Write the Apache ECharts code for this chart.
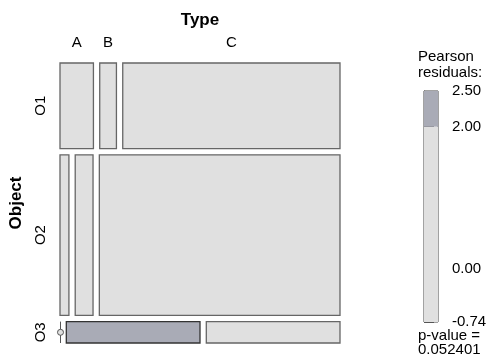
<!DOCTYPE html>
<html>
<head>
<meta charset="utf-8">
<script src="https://cdn.jsdelivr.net/npm/echarts@6/dist/echarts.min.js"></script>
<style>
  html, body { margin: 0; padding: 0; background: #fff; }
  #chart { width: 497px; height: 360px; }
</style>
</head>
<body>
<div id="chart"></div>
<script>
// Contingency table: Object (rows) x Type (columns)
const objects = ['O1', 'O2', 'O3'];
const types = ['A', 'B', 'C'];
const countsO1 = [2, 1, 13];
const countsO2 = [1, 2, 27];
const countsO3 = [0, 2, 2];

// Residual legend
const legendTicks = [-0.74, 0, 2, 2.5];
const legendTickLabels = ['-0.74', '0.00', '2.00', '2.50'];
const legendBands = [[-0.74, 2, 0], [2, 2.5, 1]];
const pValueText = '0.052401';

const FONT = '"Liberation Sans", Arial, sans-serif';
const FILLS = ['#e0e0e0', '#a9abb6'];
const BORDERS = ['#666666', '#333333'];
const GAP = 0.0225;

const table = [countsO1, countsO2, countsO3];
const rowTotals = table.map(r => r.reduce((a, b) => a + b, 0));
const colTotals = types.map((_, j) => table.reduce((a, r) => a + r[j], 0));
const N = rowTotals.reduce((a, b) => a + b, 0);

// Mosaic geometry in unit coordinates (rows split first, then columns)
const cells = [];
const rowCenters = [];
const topCenters = [];
let y = 0;
table.forEach((row, i) => {
  const h = (1 - GAP * (objects.length - 1)) * rowTotals[i] / N;
  rowCenters.push(y + h / 2);
  let x = 0;
  row.forEach((n, j) => {
    const w = (1 - GAP * (types.length - 1)) * n / rowTotals[i];
    const expected = rowTotals[i] * colTotals[j] / N;
    const resid = (n - expected) / Math.sqrt(expected);
    cells.push([x, x + w, y, y + h, resid, n]);
    if (i === 0) topCenters.push(x + w / 2);
    x += w + GAP;
  });
  y += h + GAP;
});

function nearestLabel(v, centers, names) {
  let best = 0;
  centers.forEach((c, k) => { if (Math.abs(c - v) < Math.abs(centers[best] - v)) best = k; });
  return names[best];
}

const chart = echarts.init(document.getElementById('chart'), null, { renderer: 'canvas' });

chart.setOption({
  animation: false,
  backgroundColor: '#ffffff',
  textStyle: { fontFamily: FONT },
  grid: [
    { left: 60, top: 63, width: 280, height: 280, containLabel: false },
    { left: 424, top: 91, width: 14, height: 231, containLabel: false,
      show: true, borderColor: '#444444', borderWidth: 1, backgroundColor: 'transparent' }
  ],
  xAxis: [
    {
      gridIndex: 0, type: 'value', min: 0, max: 1, position: 'top',
      axisLine: { show: false }, axisTick: { show: false }, splitLine: { show: false },
      axisLabel: {
        customValues: topCenters, margin: 13,
        color: '#000', fontSize: 15, fontFamily: FONT,
        formatter: v => nearestLabel(v, topCenters, types)
      },
      name: 'Type', nameLocation: 'middle', nameGap: 34,
      nameTextStyle: { color: '#000', fontSize: 17, fontWeight: 'bold', fontFamily: FONT }
    },
    {
      gridIndex: 1, type: 'value', min: 0, max: 1, show: false
    }
  ],
  yAxis: [
    {
      gridIndex: 0, type: 'value', min: 0, max: 1, inverse: true,
      axisLine: { show: false }, axisTick: { show: false }, splitLine: { show: false },
      axisLabel: {
        customValues: rowCenters, margin: 12, rotate: 90,
        color: '#000', fontSize: 15, fontFamily: FONT,
        formatter: v => nearestLabel(v, rowCenters, objects)
      },
      name: 'Object', nameLocation: 'middle', nameGap: 31,
      nameTextStyle: { color: '#000', fontSize: 17, fontWeight: 'bold', fontFamily: FONT }
    },
    {
      gridIndex: 1, type: 'value', min: -0.74, max: 2.5, position: 'right',
      splitLine: { show: false },
      axisLine: { show: true, lineStyle: { color: '#555555', width: 1 } },
      axisTick: { show: true, customValues: legendTicks, length: 10, lineStyle: { color: '#555555' } },
      axisLabel: {
        customValues: legendTicks, margin: 14, color: '#000', fontSize: 15, fontFamily: FONT,
        formatter: v => legendTickLabels[legendTicks.findIndex(t => Math.abs(t - v) < 1e-6)]
      }
    }
  ],
  series: [
    {
      type: 'custom', xAxisIndex: 0, yAxisIndex: 0, data: cells,
      renderItem(params, api) {
        const x0 = api.value(0), x1 = api.value(1), y0 = api.value(2), y1 = api.value(3);
        const resid = api.value(4), n = api.value(5);
        const p0 = api.coord([x0, y0]);
        const p1 = api.coord([x1, y1]);
        const shade = resid > 2 ? 1 : 0;
        if (n === 0) {
          const cx = Math.round(p0[0]) + 0.5;
          return {
            type: 'group',
            children: [
              { type: 'line', shape: { x1: cx, y1: p0[1], x2: cx, y2: p1[1] },
                style: { stroke: '#555555', lineWidth: 1 } },
              { type: 'circle', shape: { cx: cx, cy: (p0[1] + p1[1]) / 2, r: 3 },
                style: { fill: '#e0e0e0', stroke: '#555555', lineWidth: 1 } }
            ]
          };
        }
        return {
          type: 'rect',
          shape: { x: p0[0], y: p0[1], width: p1[0] - p0[0], height: p1[1] - p0[1] },
          style: { fill: FILLS[shade], stroke: BORDERS[shade], lineWidth: 1.3 }
        };
      }
    },
    {
      type: 'custom', xAxisIndex: 1, yAxisIndex: 1, data: legendBands, z: 1,
      renderItem(params, api) {
        const lo = api.value(0), hi = api.value(1), c = api.value(2);
        const pTop = api.coord([0, hi]);
        const pBot = api.coord([1, lo]);
        return {
          type: 'rect',
          shape: { x: pTop[0], y: pTop[1], width: pBot[0] - pTop[0], height: pBot[1] - pTop[1] },
          style: { fill: FILLS[c] }
        };
      }
    }
  ],
  graphic: [
    { type: 'text', left: 418, top: 49,
      style: { text: 'Pearson\nresiduals:', fill: '#000', font: '15px ' + FONT, lineHeight: 16 } },
    { type: 'text', left: 418, top: 328,
      style: { text: 'p-value =\n' + pValueText, fill: '#000', font: '15px ' + FONT, lineHeight: 14 } }
  ]
});
</script>
</body>
</html>
